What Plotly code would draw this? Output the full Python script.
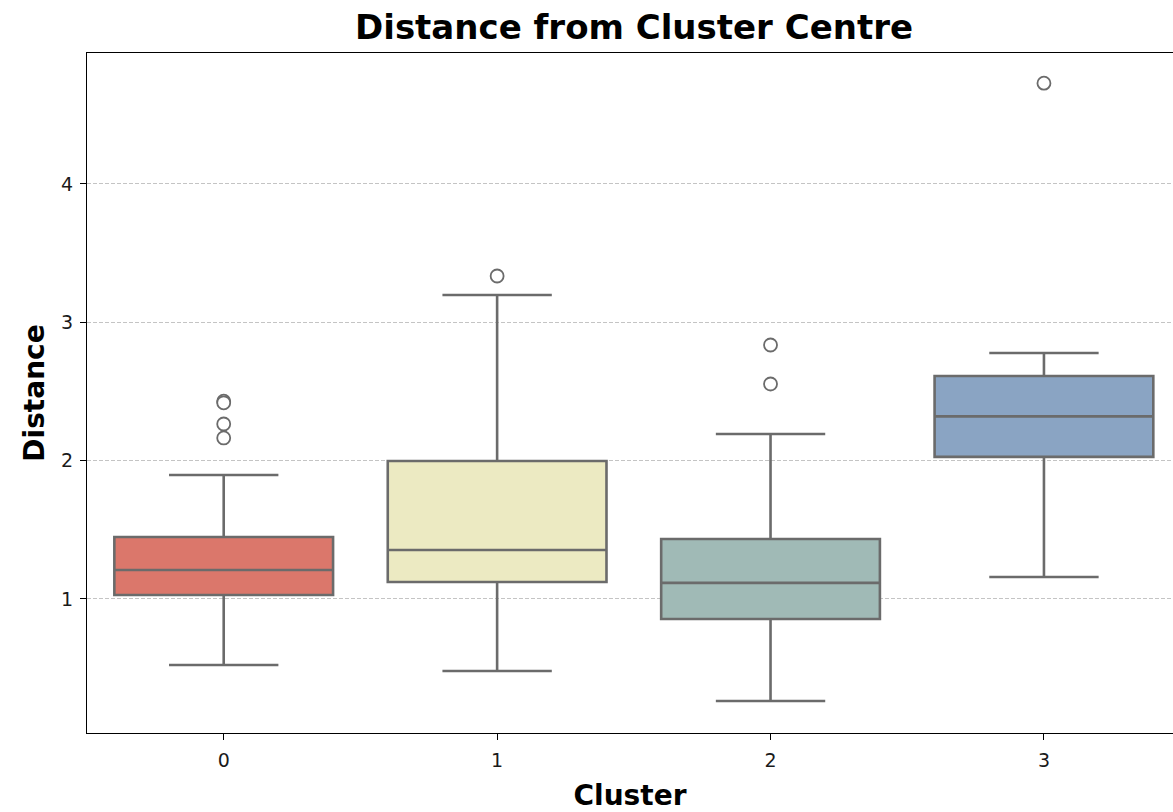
import plotly.graph_objects as go

clusters = [0, 1, 2, 3]
q1 = [1.029, 1.123, 0.855, 2.027]
median = [1.209, 1.354, 1.116, 2.320]
q3 = [1.448, 1.997, 1.434, 2.612]
lower_whisker = [0.523, 0.479, 0.262, 1.159]
upper_whisker = [1.896, 3.198, 2.193, 2.778]
outlier_cluster = [0, 0, 0, 0, 1, 2, 2, 3]
outlier_values = [2.430, 2.418, 2.265, 2.164, 3.335, 2.836, 2.554, 4.729]
colors = ["#DB776B", "#ECEAC2", "#A0BAB6", "#8AA4C3"]
tick_labels = ["0", "1", "2", "3"]

LINE = "#6B6B6B"
FONT = "DejaVu Sans"

fig = go.Figure()
for i, c in enumerate(clusters):
    fig.add_trace(go.Box(
        x=[c], q1=[q1[i]], median=[median[i]], q3=[q3[i]],
        lowerfence=[lower_whisker[i]], upperfence=[upper_whisker[i]],
        fillcolor=colors[i], line=dict(color=LINE, width=2.6),
        width=0.8, whiskerwidth=0.5, boxpoints=False,
        showlegend=False, hoverinfo="skip",
    ))

fig.add_trace(go.Scatter(
    x=outlier_cluster, y=outlier_values, mode="markers",
    marker=dict(symbol="circle", size=13, color="white",
                line=dict(color=LINE, width=1.8)),
    showlegend=False, hoverinfo="skip",
))

fig.update_layout(
    width=1173, height=812,
    margin=dict(l=87, r=0, t=53, b=79),
    plot_bgcolor="white", paper_bgcolor="white",
    font=dict(family=FONT, size=19, color="#1a1a1a"),
    title=dict(text="<b>Distance from Cluster Centre</b>",
               font=dict(family=FONT, size=34, color="black"),
               x=0.5037, xanchor="center", xref="paper",
               y=1 - 27 / 812, yanchor="middle"),
    xaxis=dict(range=[-0.5, 3.472], tickmode="array", tickvals=clusters,
               ticktext=tick_labels, showgrid=False, zeroline=False,
               showline=True, linecolor="black", linewidth=1.3, mirror=True,
               ticks="outside", ticklen=6, tickcolor="black",
               ticklabelstandoff=4,
               title=dict(text="<b>Cluster</b>",
                          font=dict(family=FONT, size=28, color="black"),
                          standoff=17)),
    yaxis=dict(range=[0.031, 4.947], tickmode="array", tickvals=[1, 2, 3, 4],
               ticktext=["1", "2", "3", "4"],
               showgrid=True, gridcolor="#c4c4c4", griddash="4px,2px", gridwidth=0.8,
               zeroline=False, showline=True, linecolor="black", linewidth=1.3,
               ticks="outside", ticklen=6, tickcolor="black",
               ticklabelstandoff=3,
               title=dict(text="<b>Distance</b>",
                          font=dict(family=FONT, size=28, color="black"),
                          standoff=8)),
)

fig.write_html("out.html")
